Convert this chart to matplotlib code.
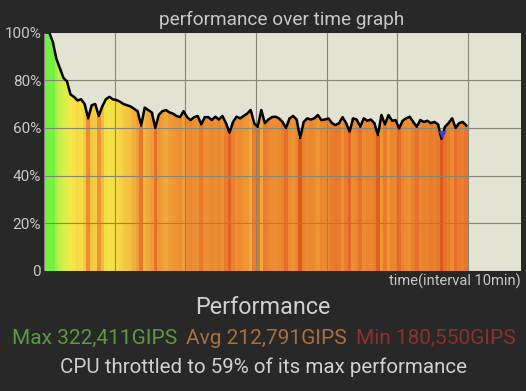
import matplotlib.pyplot as plt
import numpy as np
from matplotlib.colors import LinearSegmentedColormap, Normalize

# performance in % of max, sampled every 0.5 min
perf = [100, 100, 96, 89, 85, 81, 79.5, 74, 73, 71.5,
        72, 70, 64, 69.5, 70, 65, 69, 72, 73, 72,
        71.7, 71, 70, 69.5, 69, 68, 67, 61, 68.5, 67.5,
        66.5, 60, 65.5, 67, 67.5, 66.5, 66, 65, 64.5, 67,
        64.5, 63.3, 64.5, 65, 61.5, 64.5, 64.5, 63.3, 64.7, 63.5,
        65, 62, 58, 62.5, 64.7, 64, 65, 66, 67.5, 61.9,
        60.5, 67.5, 62, 63.5, 64.5, 64.7, 64, 62.5, 60, 64,
        65, 63.5, 55.8, 62.5, 64, 63.5, 64, 65.4, 63.3, 63.5,
        64, 62, 61.2, 62, 64.5, 62, 58.5, 64, 63.5, 60.5,
        64, 63, 63.5, 62, 57, 65.4, 61.5, 65.4, 63, 63.3,
        59.8, 63, 64, 64.7, 62.5, 60.5, 63.3, 62.5, 63, 62,
        62.5, 61.5, 55.4, 60.5, 62, 64, 60, 62, 62.5, 61]
time = np.arange(len(perf)) * 0.5

title = "performance over time graph"
max_txt = "Max 322,411GIPS"
avg_txt = "Avg 212,791GIPS"
min_txt = "Min 180,550GIPS"
throttle_txt = "CPU throttled to 59% of its max performance"

plt.rcParams['font.family'] = ['Roboto', 'DejaVu Sans']

cmap = LinearSegmentedColormap.from_list("perf", [
    (0.00, "#dc561c"), (0.125, "#e6702a"), (0.22, "#ec8a30"),
    (0.30, "#f0a038"), (0.36, "#f4c440"), (0.42, "#f6de45"),
    (0.50, "#f6ea48"), (0.75, "#c4f048"), (1.00, "#76f040")])
norm = Normalize(vmin=55, vmax=95)

fig = plt.figure(figsize=(5.26, 3.91), dpi=100, facecolor="#282828")
ax = fig.add_axes([44/526, 1 - 271/391, 477/526, 238.5/391])
ax.set_facecolor("#e3e3d3")

ax.bar(time, perf, width=0.5, align='edge', color=cmap(norm(np.array(perf))),
       linewidth=0, antialiased=False, zorder=2)
ax.plot(time + 0.25, perf, color="black", lw=1.8, zorder=3)
# blue mark at the minimum
i_min = int(np.argmin(perf))
ax.plot(time[i_min] + 0.25, perf[i_min] + 2, marker='v', color="#3040e0",
        ms=4, zorder=4)

ax.set_xlim(0, 67.5)
ax.set_ylim(0, 100)
ax.set_xticks(np.arange(0, 61, 10))
ax.set_yticks([0, 20, 40, 60, 80, 100])
ax.set_yticklabels(["0", "20%", "40%", "60%", "80%", "100%"])
ax.tick_params(axis='x', length=0, labelbottom=False)
ax.tick_params(axis='y', length=0, pad=2, labelsize=11, labelcolor="#c8c8c8")
ax.grid(True, color="#858575", lw=0.8, zorder=2.5)
ax.set_axisbelow(False)
for s in ax.spines.values():
    s.set_visible(False)

fig.text(282/526, 1 - 20/391, title, ha='center', va='center',
         color="#c8c8c8", fontsize=13.7)
fig.text(521/526, 1 - 281/391, "time(interval 10min)", ha='right', va='center',
         color="#c8c8c8", fontsize=10.5)
fig.text(263/526, 1 - 308/391, "Performance", ha='center', va='center',
         color="#d0d0d0", fontsize=16.8)
fig.text(12/526, 1 - 338/391, max_txt, ha='left', va='center',
         color="#5a9a40", fontsize=15)
fig.text(186/526, 1 - 338/391, avg_txt, ha='left', va='center',
         color="#a8703c", fontsize=15)
fig.text(356/526, 1 - 338/391, min_txt, ha='left', va='center',
         color="#8c3030", fontsize=15)
fig.text(263/526, 1 - 367/391, throttle_txt, ha='center', va='center',
         color="#d0d0d0", fontsize=14.8)

fig.savefig("out.png", dpi=100, facecolor=fig.get_facecolor())
